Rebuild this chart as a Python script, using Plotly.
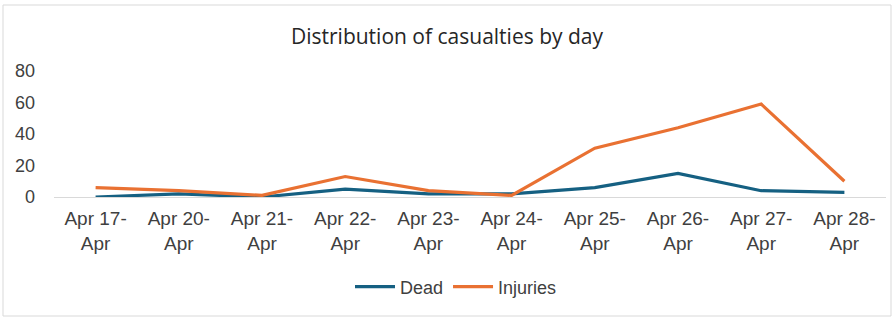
import plotly.graph_objects as go

categories = ["Apr 17-<br>Apr", "Apr 20-<br>Apr", "Apr 21-<br>Apr", "Apr 22-<br>Apr", "Apr 23-<br>Apr",
              "Apr 24-<br>Apr", "Apr 25-<br>Apr", "Apr 26-<br>Apr", "Apr 27-<br>Apr", "Apr 28-<br>Apr"]
dead = [0, 2, 0, 5, 2, 2, 6, 15, 4, 3]
injuries = [6, 4, 1, 13, 4, 1, 31, 44, 59, 10]
y_ticks = [0, 20, 40, 60, 80]

BLUE = "#156082"
ORANGE = "#E97132"
FONT = "Liberation Sans"

fig = go.Figure()
fig.add_trace(go.Scatter(x=categories, y=dead, name="Dead", mode="lines",
                         line=dict(color=BLUE, width=3.2), cliponaxis=False))
fig.add_trace(go.Scatter(x=categories, y=injuries, name="Injuries", mode="lines",
                         line=dict(color=ORANGE, width=3.2), cliponaxis=False))

L, R, T, B = 54, 8, 71, 121
W, H = 894, 318
pw = W - L - R
ph = H - T - B

def px_x(p):
    return (p - L) / pw

def px_y(p):
    return (H - B - p) / ph

fig.update_layout(
    width=W, height=H,
    margin=dict(l=L, r=R, t=T, b=B),
    paper_bgcolor="white", plot_bgcolor="white",
    title=dict(text="Distribution of casualties by day", x=0.5, xanchor="center",
               y=1 - 37 / H, yanchor="middle",
               font=dict(family="Open Sans", size=21, color="#262626")),
    font=dict(family=FONT, size=18, color="#404040"),
    showlegend=True,
    legend=dict(orientation="h", x=0.5 - 14 / pw, xanchor="center", y=px_y(287), yanchor="middle",
                font=dict(family=FONT, size=18, color="#404040"), itemwidth=40,
                traceorder="normal"),
    xaxis=dict(type="category", range=[-0.5, len(categories) - 0.5], showgrid=False,
               showline=True, linecolor="#D9D9D9", linewidth=1, zeroline=False,
               ticks="", tickfont=dict(family=FONT, size=19, color="#404040"),
               ticklabelstandoff=4),
    yaxis=dict(range=[0, 80], tickvals=y_ticks, showgrid=False, zeroline=False,
               showline=False, ticks="", ticklabelstandoff=18,
               tickfont=dict(family=FONT, size=18, color="#404040")),
    shapes=[dict(type="rect", xref="paper", yref="paper",
                 x0=px_x(3), x1=px_x(891), y0=px_y(316), y1=px_y(5),
                 line=dict(color="#D9D9D9", width=1), fillcolor="rgba(0,0,0,0)", layer="below")],
)

fig.write_html("out.html", config={"displayModeBar": False},
               post_script="document.body.style.margin='0';document.body.style.padding='0';")
